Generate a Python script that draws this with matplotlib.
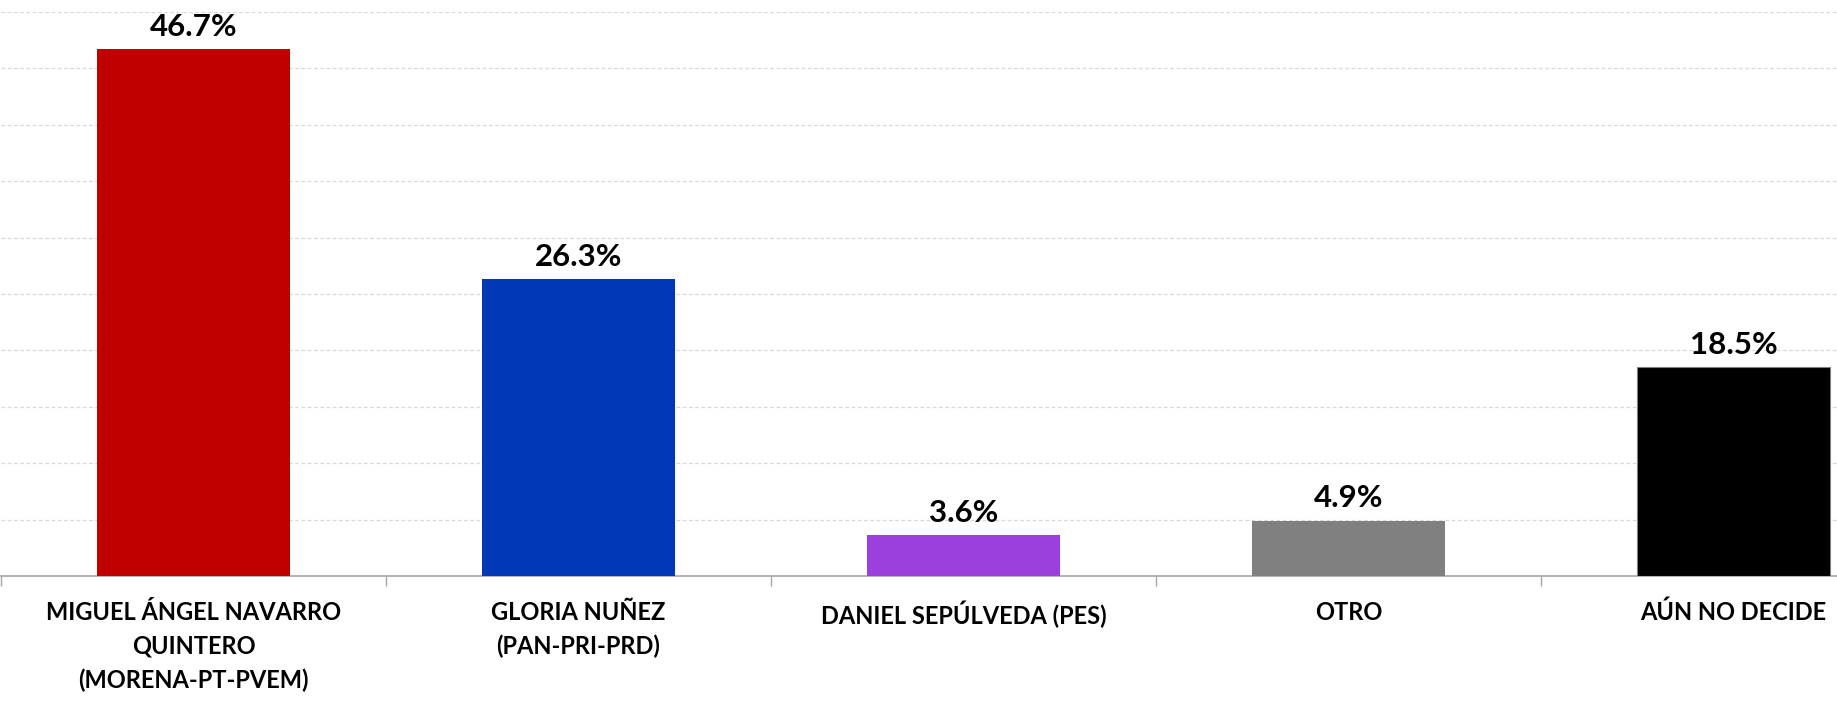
import numpy as np
import matplotlib
matplotlib.use("Agg")
import matplotlib.pyplot as plt

# Data
categories = [
    "MIGUEL ÁNGEL NAVARRO\nQUINTERO\n(MORENA-PT-PVEM)",
    "GLORIA NUÑEZ\n(PAN-PRI-PRD)",
    "DANIEL SEPÚLVEDA (PES)",
    "OTRO",
    "AÚN NO DECIDE",
]
values = [46.7, 26.3, 3.6, 4.9, 18.5]
colors = ["#C00000", "#0038B8", "#9B40DD", "#808080", "#000000"]

plt.rcParams['font.family'] = ['Lato', 'DejaVu Sans']

fig = plt.figure(figsize=(18.37, 7.06), dpi=100)
# axes runs slightly past the right edge, like the cropped original
ax = fig.add_axes([1 / 1837, 130 / 706, 1925 / 1837, 564 / 706])

x = np.arange(len(values))
bars = ax.bar(x, values, width=0.5, color=colors, edgecolor="none", zorder=3)
bars[-1].set_edgecolor("#7f7f7f")
bars[-1].set_linewidth(0.8)

for xi, v in zip(x, values):
    ax.annotate(f"{v:.1f}%", (xi, v), xytext=(0, 6), textcoords="offset points",
                ha="center", va="bottom", fontsize=22.5, fontweight="bold")

ax.set_xlim(-0.5, len(values) - 0.5)
ax.set_ylim(0, 50)
ax.set_yticks(np.arange(0, 51, 5))
ax.yaxis.grid(True, color="#d9d9d9", linestyle=(0, (3, 2)), linewidth=0.9)
ax.tick_params(axis="y", left=False, labelleft=False)

ax.set_xticks(x)
ax.set_xticklabels(categories, fontsize=17, fontweight="bold", linespacing=1.55)
ax.tick_params(axis="x", which="major", length=0, pad=18)
ax.set_xticks(np.arange(-0.5, len(values), 1), minor=True)
ax.tick_params(axis="x", which="minor", length=7, color="#a6a6a6", width=1)

for side in ["top", "right", "left"]:
    ax.spines[side].set_visible(False)
ax.spines["bottom"].set_color("#a6a6a6")
ax.spines["bottom"].set_linewidth(1.2)

fig.savefig("out.png", dpi=100)
